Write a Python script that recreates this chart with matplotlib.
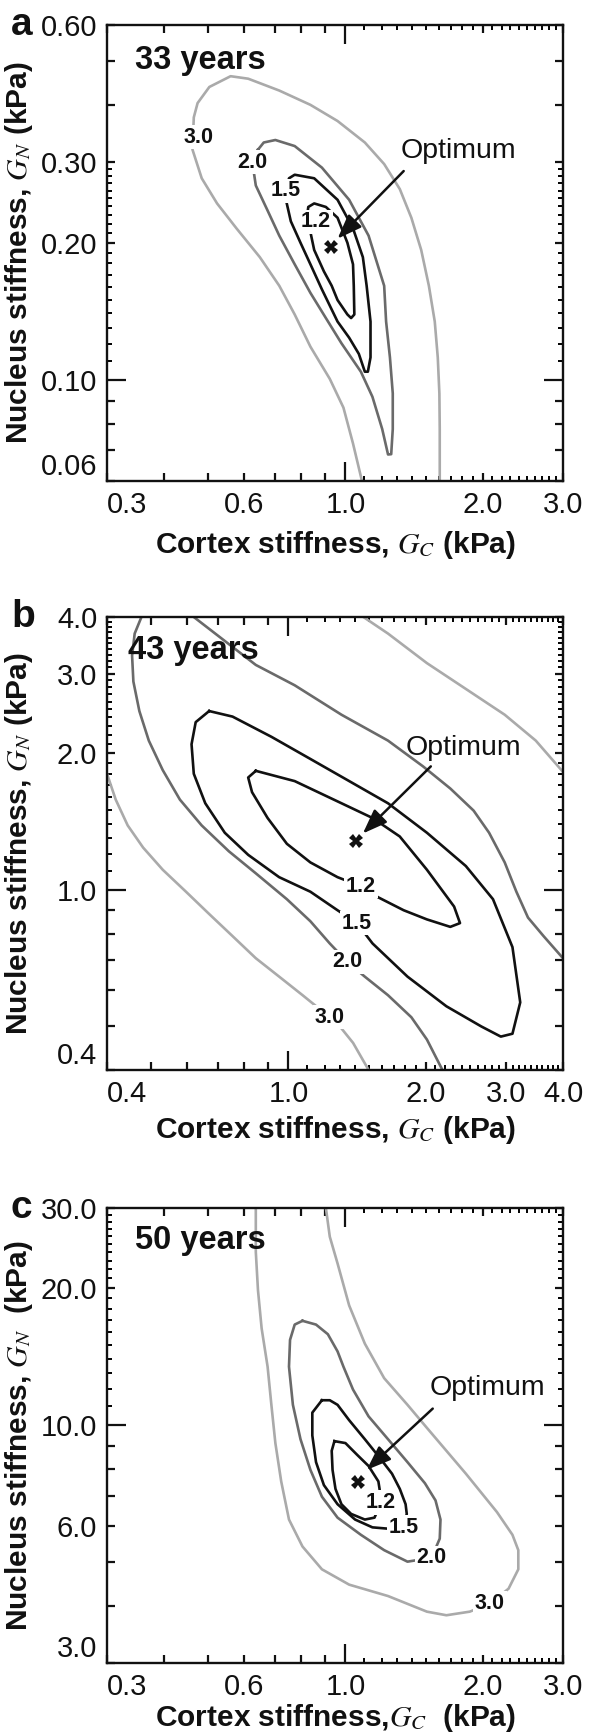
import matplotlib
matplotlib.use('Agg')
import matplotlib.pyplot as plt
from matplotlib.ticker import FixedLocator, FixedFormatter, NullFormatter

plt.rcParams['font.family'] = ['Liberation Sans', 'DejaVu Sans']
plt.rcParams['mathtext.fontset'] = 'stix'

# ---------------- Panel a (33 years) ----------------
A_GC_30 = [1.087, 1.039, 0.990, 0.924, 0.838, 0.774, 0.716, 0.649, 0.577, 0.523, 0.484, 0.462,
           0.465, 0.474, 0.503, 0.560, 0.612, 0.716, 0.838, 0.961, 1.103, 1.216, 1.316, 1.395,
           1.466, 1.524, 1.570, 1.594, 1.607, 1.610, 1.610]
A_GN_30 = [0.0600, 0.0725, 0.0869, 0.1005, 0.1182, 0.1391, 0.1608, 0.1858, 0.2148, 0.2437, 0.2767, 0.3197,
           0.3763, 0.4045, 0.4388, 0.4633, 0.4575, 0.4309, 0.4009, 0.3695, 0.3315, 0.2973, 0.2620, 0.2267,
           0.1927, 0.1608, 0.1342, 0.1120, 0.0934, 0.0780, 0.0600]
A_GC_20 = [0.643, 0.662, 0.702, 0.774, 0.888, 1.019, 1.124, 1.169, 1.216, 1.228, 1.252, 1.270, 1.270,
           1.260, 1.240, 1.204, 1.146, 1.081, 0.980, 0.906, 0.838, 0.774, 0.716, 0.675, 0.636, 0.630, 0.643]
A_GN_20 = [0.3197, 0.3315, 0.3357, 0.3256, 0.2920, 0.2482, 0.2071, 0.1825, 0.1608, 0.1342, 0.1120, 0.0934, 0.0780,
           0.0687, 0.0686, 0.0780, 0.0918, 0.1042, 0.1203, 0.1366, 0.1551, 0.1792, 0.2071, 0.2351, 0.2668, 0.2842, 0.3197]
A_GC_15 = [0.747, 0.752, 0.774, 0.854, 0.961, 1.039, 1.092, 1.113, 1.135, 1.135, 1.120, 1.103, 1.070,
           1.019, 0.961, 0.888, 0.838, 0.797, 0.759, 0.742, 0.747]
A_GN_15 = [0.2692, 0.2767, 0.2817, 0.2767, 0.2482, 0.2148, 0.1858, 0.1608, 0.1342, 0.1120, 0.1042, 0.1042, 0.1140,
           0.1237, 0.1342, 0.1579, 0.1792, 0.1998, 0.2227, 0.2460, 0.2692]
A_GC_12 = [0.826, 0.829, 0.854, 0.906, 0.961, 1.010, 1.039, 1.043, 1.046, 1.029, 1.010, 0.961, 0.933,
           0.897, 0.854, 0.838, 0.826]
A_GN_12 = [0.2330, 0.2394, 0.2437, 0.2394, 0.2267, 0.1998, 0.1792, 0.1608, 0.1391, 0.1366, 0.1391, 0.1496, 0.1608,
           0.1729, 0.1927, 0.2108, 0.2330]
A_OPT = (0.928, 0.196)
A_ARROW_FROM = (1.342, 0.287)
A_ARROW_TO = (0.961, 0.204)
A_OPT_TEXT = (1.766, 0.317)
A_LABELS = [('3.0', 0.476, 0.3405), ('2.0', 0.626, 0.300), ('1.5', 0.739, 0.2597), ('1.2', 0.862, 0.2219)]

# ---------------- Panel b (43 years) ----------------
B_GC_30a = [0.400, 0.418, 0.444, 0.480, 0.530, 0.596, 0.670, 0.754, 0.848, 0.954, 1.074, 1.232, 1.307, 1.386, 1.499]
B_GN_30a = [1.803, 1.581, 1.387, 1.239, 1.107, 0.990, 0.884, 0.790, 0.706, 0.643, 0.585, 0.523, 0.494, 0.459, 0.400]
B_GC_30b = [1.460, 1.653, 2.012, 2.449, 2.980, 3.486, 4.000]
B_GN_30b = [4.000, 3.677, 3.164, 2.775, 2.434, 2.134, 1.820]
B_GC_20a = [0.476, 0.460, 0.454, 0.457, 0.471, 0.494, 0.530, 0.578, 0.645, 0.740, 0.848, 0.992, 1.117,
            1.232, 1.346, 1.470, 1.653, 1.860, 2.012, 2.176]
B_GN_20a = [4.000, 3.677, 3.285, 2.881, 2.480, 2.134, 1.837, 1.581, 1.387, 1.216, 1.087, 0.953, 0.852,
            0.761, 0.693, 0.643, 0.585, 0.523, 0.467, 0.400]
B_GC_20b = [0.620, 0.848, 1.032, 1.307, 1.653, 1.973, 2.264, 2.547, 2.754, 2.980, 3.161, 3.352, 3.626, 4.000]
B_GN_20b = [4.000, 3.135, 2.827, 2.434, 2.134, 1.872, 1.673, 1.495, 1.336, 1.149, 0.990, 0.868, 0.790, 0.706]
B_GC_15 = [0.670, 0.754, 0.918, 1.117, 1.359, 1.653, 2.012, 2.449, 2.809, 3.099, 3.223, 3.099, 2.922, 2.649,
           2.220, 1.824, 1.529, 1.413, 1.281, 1.117, 0.954, 0.816, 0.725, 0.657, 0.620, 0.613, 0.626, 0.670]
B_GN_15 = [2.480, 2.411, 2.175, 1.944, 1.737, 1.552, 1.336, 1.128, 0.953, 0.747, 0.564, 0.481, 0.474, 0.499,
           0.553, 0.643, 0.761, 0.844, 0.901, 0.990, 1.066, 1.194, 1.336, 1.552, 1.803, 2.095, 2.344, 2.480]
B_GC_12 = [0.848, 1.032, 1.307, 1.529, 1.754, 2.012, 2.308, 2.378, 2.264, 2.012, 1.789, 1.574, 1.441, 1.281,
           1.117, 0.992, 0.900, 0.832, 0.816, 0.848]
B_GN_12 = [1.830, 1.737, 1.552, 1.440, 1.311, 1.107, 0.918, 0.844, 0.828, 0.860, 0.901, 0.962, 1.018, 1.066,
           1.149, 1.263, 1.440, 1.642, 1.769, 1.830]
B_OPT = (1.408, 1.282)
B_ARROW_FROM = (2.052, 1.872)
B_ARROW_TO = (1.456, 1.331)
B_OPT_TEXT = (2.425, 2.056)
B_LABELS = [('1.2', 1.441, 1.018), ('1.5', 1.413, 0.844), ('2.0', 1.346, 0.693), ('3.0', 1.232, 0.523)]

# ---------------- Panel c (50 years) ----------------
C_GC_30 = [0.636, 0.636, 0.643, 0.655, 0.675, 0.688, 0.702, 0.723, 0.752, 0.805, 0.888, 1.019, 1.240, 1.509,
           1.665, 1.873, 2.074, 2.279, 2.394, 2.394, 2.324, 2.149, 1.837, 1.509, 1.368, 1.216, 1.103, 1.019,
           0.961, 0.924, 0.906]
C_GN_30 = [30.0, 24.02, 19.79, 16.31, 13.44, 11.08, 9.13, 7.52, 6.20, 5.41, 4.82, 4.46, 4.21, 3.89,
           3.82, 3.89, 4.05, 4.37, 4.82, 5.31, 5.74, 6.44, 7.82, 9.86, 11.08, 12.68, 15.10, 18.32,
           22.66, 25.95, 30.0]
C_GC_20 = [0.805, 0.774, 0.756, 0.752, 0.767, 0.797, 0.838, 0.888, 0.961, 1.081, 1.216, 1.368, 1.545,
           1.610, 1.616, 1.576, 1.494, 1.368, 1.240, 1.124, 1.039, 0.990, 0.961, 0.915, 0.862, 0.805]
C_GN_20 = [16.95, 16.63, 15.39, 13.44, 11.08, 9.31, 7.97, 6.96, 6.26, 5.74, 5.31, 5.01, 5.11,
           5.63, 6.20, 6.83, 7.45, 8.29, 9.31, 10.45, 11.97, 13.44, 14.52, 15.84, 16.63, 16.95]
C_GC_15 = [0.888, 0.846, 0.846, 0.862, 0.897, 0.961, 1.050, 1.146, 1.240, 1.342, 1.363, 1.355, 1.316,
           1.265, 1.192, 1.103, 1.019, 0.961, 0.924, 0.888]
C_GN_15 = [11.34, 10.65, 9.49, 8.29, 7.38, 6.70, 6.20, 5.96, 5.92, 5.96, 6.38, 6.70, 7.24,
           7.82, 8.45, 9.31, 10.25, 11.08, 11.34, 11.34]
C_GC_12 = [0.946, 1.000, 1.060, 1.124, 1.181, 1.188, 1.197, 1.158, 1.103, 1.029, 0.980, 0.951, 0.937, 0.933, 0.946]
C_GN_12 = [9.22, 9.13, 8.61, 8.13, 7.52, 7.24, 6.76, 6.26, 6.20, 6.38, 6.70, 7.24, 7.97, 8.78, 9.22]
C_OPT = (1.064, 7.49)
C_ARROW_FROM = (1.554, 10.87)
C_ARROW_TO = (1.113, 7.97)
C_OPT_TEXT = (2.046, 12.08)
C_LABELS = [('1.2', 1.197, 6.76), ('1.5', 1.342, 5.96), ('2.0', 1.545, 5.11), ('3.0', 2.074, 4.05)]

# ---------------- ticks ----------------
TICKS_03_30 = [0.3, 0.4, 0.5, 0.6, 0.7, 0.8, 0.9, 1.0, 2.0, 3.0]
LABELS_03_30 = ['0.3', '', '', '0.6', '', '', '', '1.0', '2.0', '3.0']
MINOR_1_3 = [1.1, 1.2, 1.3, 1.4, 1.5, 1.6, 1.7, 1.8, 1.9, 2.1, 2.2, 2.3, 2.4, 2.5, 2.6, 2.7, 2.8, 2.9]
TICKS_A_Y = [0.06, 0.07, 0.08, 0.09, 0.1, 0.2, 0.3, 0.4, 0.5, 0.6]
LABELS_A_Y = ['0.06', '', '', '', '0.10', '0.20', '0.30', '', '', '0.60']
MINOR_A_Y = [v / 10 for v in MINOR_1_3]
TICKS_04_40 = [0.4, 0.5, 0.6, 0.7, 0.8, 0.9, 1.0, 2.0, 3.0, 4.0]
LABELS_04_40 = ['0.4', '', '', '', '', '', '1.0', '2.0', '3.0', '4.0']
MINOR_1_4 = MINOR_1_3 + [3.1, 3.2, 3.3, 3.4, 3.5, 3.6, 3.7, 3.8, 3.9]
TICKS_C_Y = [3, 4, 5, 6, 7, 8, 9, 10, 20, 30]
LABELS_C_Y = ['3.0', '', '', '6.0', '', '', '', '10.0', '20.0', '30.0']
MINOR_C_Y = [v * 10 for v in MINOR_1_3]

C30 = '#aaaaaa'
C20 = '#6a6a6a'
CK = '#111111'

W, H = 608.0, 1735.0
fig = plt.figure(figsize=(6.08, 17.35), dpi=100)


def make_axes(top, bottom):
    return fig.add_axes([107 / W, (H - bottom) / H, 456 / W, (bottom - top) / H])


def style_axis(axis, major, labels, minor):
    axis.set_major_locator(FixedLocator(major))
    axis.set_major_formatter(FixedFormatter(labels))
    axis.set_minor_locator(FixedLocator(minor))
    axis.set_minor_formatter(NullFormatter())


def finish_ticks(ax, xmaj, xlong, ymaj, ylong):
    ax.tick_params(which='major', direction='in', length=6, width=1.6, top=True, right=True,
                   labelsize=21, pad=7, colors='#111111')
    ax.tick_params(which='minor', direction='in', length=3.3, width=1.4, top=True, right=True)
    for t, v in zip(ax.xaxis.get_major_ticks(), xmaj):
        if abs(v - xlong) < 1e-9:
            t.tick1line.set_markersize(13.5)
            t.tick2line.set_markersize(13.5)
    for t, v in zip(ax.yaxis.get_major_ticks(), ymaj):
        if abs(v - ylong) < 1e-9:
            t.tick1line.set_markersize(13.5)
            t.tick2line.set_markersize(13.5)
    ax.xaxis.get_major_ticks()[0].label1.set_horizontalalignment('left')
    ax.yaxis.get_major_ticks()[0].label1.set_verticalalignment('bottom')
    for s in ax.spines.values():
        s.set_linewidth(1.7)
        s.set_color('#111111')


def draw_panel(ax, curves, labels, opt, arr_from, arr_to, opt_text, year, year_x, year_y):
    for xs, ys, col in curves:
        ax.plot(xs, ys, color=col, lw=1.9, solid_joinstyle='round', zorder=2)
    for s, x, y in labels:
        ax.text(x, y, s, ha='center', va='center', fontsize=15.5, fontweight='bold', zorder=4,
                color='#111111',
                bbox=dict(boxstyle='square,pad=0.08', fc='white', ec='none'))
    ax.plot([opt[0]], [opt[1]], marker='X', ms=9.5, color=CK, mew=0, ls='none', zorder=5)
    ax.annotate('', xy=arr_to, xytext=arr_from,
                arrowprops=dict(arrowstyle='-|>,head_length=0.75,head_width=0.28', mutation_scale=20,
                                color=CK, lw=1.8, shrinkA=0, shrinkB=0), zorder=6)
    ax.text(opt_text[0], opt_text[1], 'Optimum', ha='center', va='center', fontsize=20.5,
            color='#111111', zorder=6)
    ax.text(year_x, year_y, year, transform=ax.transAxes, fontsize=23.5, fontweight='bold',
            ha='left', va='center', color='#111111', zorder=6)


def labels_xy(ax, xlabel, ylabel, xlab_y):
    ax.set_xlabel(xlabel, fontsize=21.5, fontweight='bold', va='center', color='#111111')
    ax.xaxis.set_label_coords(0.5, xlab_y)
    ax.set_ylabel(ylabel, fontsize=21.5, fontweight='bold', va='center', color='#111111')
    ax.yaxis.set_label_coords(-0.193, 0.5)


# ---- panel a ----
axa = make_axes(25, 481)
axa.set_xscale('log')
axa.set_yscale('log')
axa.set_xlim(0.3, 3.0)
axa.set_ylim(0.06, 0.6)
style_axis(axa.xaxis, TICKS_03_30, LABELS_03_30, MINOR_1_3)
style_axis(axa.yaxis, TICKS_A_Y, LABELS_A_Y, MINOR_A_Y)
finish_ticks(axa, TICKS_03_30, 1.0, TICKS_A_Y, 0.1)
draw_panel(axa, [(A_GC_30, A_GN_30, C30), (A_GC_20, A_GN_20, C20),
                 (A_GC_15, A_GN_15, CK), (A_GC_12, A_GN_12, CK)],
           A_LABELS, A_OPT, A_ARROW_FROM, A_ARROW_TO, A_OPT_TEXT, '33 years', 0.062, 0.923)
labels_xy(axa, 'Cortex stiffness, $G_C$ (kPa)', 'Nucleus stiffness, $G_N$ (kPa)', -0.140)

# ---- panel b ----
axb = make_axes(617, 1070)
axb.set_xscale('log')
axb.set_yscale('log')
axb.set_xlim(0.4, 4.0)
axb.set_ylim(0.4, 4.0)
style_axis(axb.xaxis, TICKS_04_40, LABELS_04_40, MINOR_1_4)
style_axis(axb.yaxis, TICKS_04_40, LABELS_04_40, MINOR_1_4)
finish_ticks(axb, TICKS_04_40, 1.0, TICKS_04_40, 1.0)
draw_panel(axb, [(B_GC_30a, B_GN_30a, C30), (B_GC_30b, B_GN_30b, C30),
                 (B_GC_20a, B_GN_20a, C20), (B_GC_20b, B_GN_20b, C20),
                 (B_GC_15, B_GN_15, CK), (B_GC_12, B_GN_12, CK)],
           B_LABELS, B_OPT, B_ARROW_FROM, B_ARROW_TO, B_OPT_TEXT, '43 years', 0.045, 0.927)
labels_xy(axb, 'Cortex stiffness, $G_C$ (kPa)', 'Nucleus stiffness, $G_N$ (kPa)', -0.132)

# ---- panel c ----
axc = make_axes(1208, 1663)
axc.set_xscale('log')
axc.set_yscale('log')
axc.set_xlim(0.3, 3.0)
axc.set_ylim(3.0, 30.0)
style_axis(axc.xaxis, TICKS_03_30, LABELS_03_30, MINOR_1_3)
style_axis(axc.yaxis, TICKS_C_Y, LABELS_C_Y, MINOR_C_Y)
finish_ticks(axc, TICKS_03_30, 1.0, TICKS_C_Y, 10)
draw_panel(axc, [(C_GC_30, C_GN_30, C30), (C_GC_20, C_GN_20, C20),
                 (C_GC_15, C_GN_15, CK), (C_GC_12, C_GN_12, CK)],
           C_LABELS, C_OPT, C_ARROW_FROM, C_ARROW_TO, C_OPT_TEXT, '50 years', 0.062, 0.929)
labels_xy(axc, 'Cortex stiffness,$G_C$  (kPa)', 'Nucleus stiffness, $G_N$  (kPa)', -0.121)

# panel letters
for letter, top in (('a', 25), ('b', 617), ('c', 1208)):
    fig.text(11 / W, 1 - (top + 10) / H, letter, fontsize=28, fontweight='bold',
             ha='left', va='baseline', color='#111111')

fig.savefig('out.png', dpi=100)
